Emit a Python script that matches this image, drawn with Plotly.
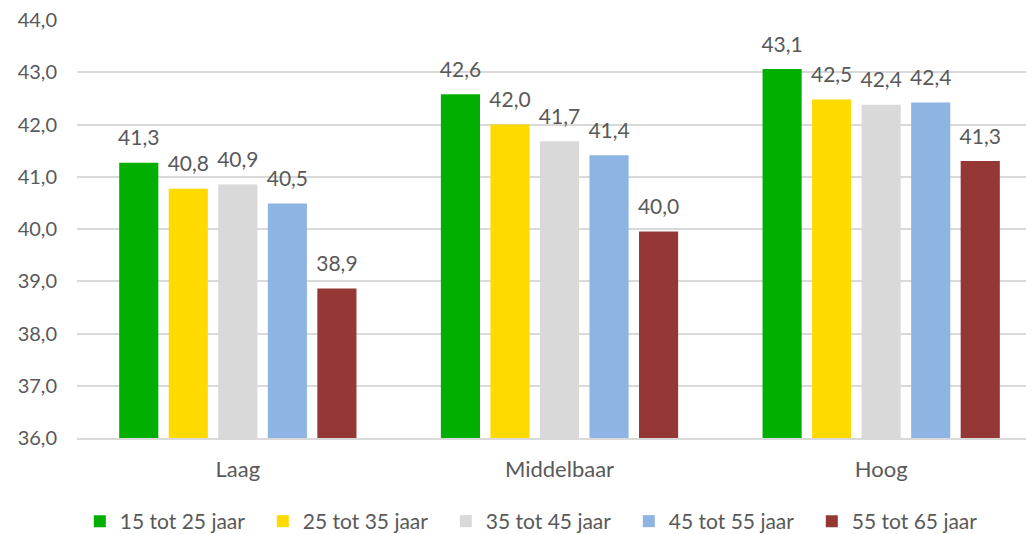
import plotly.graph_objects as go

categories = ["Laag", "Middelbaar", "Hoog"]
series_names = ["15 tot 25 jaar", "25 tot 35 jaar", "35 tot 45 jaar", "45 tot 55 jaar", "55 tot 65 jaar"]
age_15_25 = [41.27, 42.58, 43.06]
age_25_35 = [40.77, 42.00, 42.48]
age_35_45 = [40.85, 41.68, 42.38]
age_45_55 = [40.49, 41.41, 42.42]
age_55_65 = [38.86, 39.95, 41.30]
y_ticks = [36, 37, 38, 39, 40, 41, 42, 43, 44]

values = [age_15_25, age_25_35, age_35_45, age_45_55, age_55_65]
colors = ["#00AF00", "#FFDA00", "#D9D9D9", "#8EB4E3", "#953735"]
font = "Lato"
text_color = "#595959"

fig = go.Figure()
for name, vals, col in zip(series_names, values, colors):
    fig.add_trace(go.Bar(
        x=categories, y=vals, name=name, marker_color=col,
        marker_line_width=0, offsetgroup=name,
    ))
# value labels sit a bit above the bars, like in Excel
for name, vals in zip(series_names, values):
    fig.add_trace(go.Scatter(
        x=categories, y=vals, mode="markers+text", offsetgroup=name,
        text=[f"{v:.1f}".replace(".", ",") for v in vals],
        textposition="top center",
        textfont=dict(family=font, size=21, color=text_color),
        marker=dict(size=18, color="rgba(0,0,0,0)"),
        showlegend=False, hoverinfo="skip", cliponaxis=False,
    ))

fig.update_layout(
    width=1034, height=534,
    margin=dict(l=69, r=0, t=12, b=103),
    plot_bgcolor="white", paper_bgcolor="white",
    barmode="group", bargap=0.23, bargroupgap=0.21,
    scattermode="group", scattergap=0.23,
    separators=",.",
    font=dict(family=font, size=20, color=text_color),
    legend=dict(orientation="h", x=0.477, xanchor="center", y=-0.2, yanchor="middle",
                font=dict(size=21), itemwidth=30, entrywidth=138, traceorder="normal"),
    showlegend=True,
)
fig.update_xaxes(showline=True, linecolor="#D9D9D9", linewidth=1.5,
                 ticks="", ticklabelstandoff=11, tickfont=dict(size=22))
fig.update_yaxes(range=[36, 44], tickvals=y_ticks, tickformat=".1f",
                 showgrid=True, gridcolor="#D9D9D9", gridwidth=1.5, zeroline=False,
                 ticks="", ticklabelstandoff=19, ticklabeloverflow="allow",
                 automargin=False, tickfont=dict(size=20))

fig.write_html("out.html")
